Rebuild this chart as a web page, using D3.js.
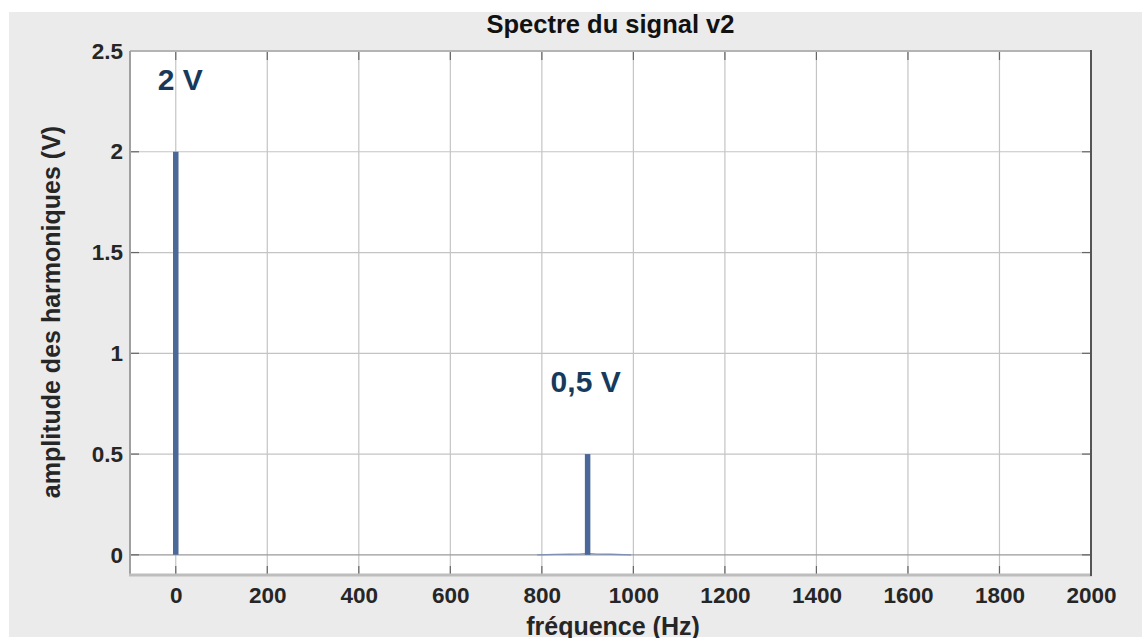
<!DOCTYPE html>
<html>
<head>
<meta charset="utf-8">
<script src="https://cdn.jsdelivr.net/npm/d3@7"></script>
<style>
  body { margin: 0; background: #fff; }
  svg { display: block; font-family: "Liberation Sans", Arial, sans-serif; }
</style>
</head>
<body>
<div id="chart"></div>
<script>
// spectral lines
var freqs = [0, 900];
var amps = [2, 0.5];
var labels = ["2 V", "0,5 V"];

// small leakage around the 900 Hz line
var leakFreqs = [790, 830, 860, 880, 895, 905, 920, 950, 995];
var leakAmps = [0, 0.002, 0.003, 0.004, 0.006, 0.006, 0.004, 0.003, 0];

var xTicks = [0, 200, 400, 600, 800, 1000, 1200, 1400, 1600, 1800, 2000];
var yTicks = [0, 0.5, 1, 1.5, 2, 2.5];
var yTickLabels = ["0", "0.5", "1", "1.5", "2", "2.5"];

var W = 1142, H = 638;
var pLeft = 130, pTop = 51, pRight = 1091, pBottom = 575;

var svg = d3.select("#chart").append("svg")
  .attr("width", W)
  .attr("height", H);

svg.append("rect")
  .attr("x", 9).attr("y", 12)
  .attr("width", W - 9).attr("height", 625)
  .attr("fill", "#ebebeb");

var x = d3.scaleLinear().domain([-100, 2000]).range([pLeft, pRight]);
var y = d3.scaleLinear().domain([-0.1, 2.5]).range([pBottom, pTop]);

svg.append("rect")
  .attr("x", pLeft).attr("y", pTop)
  .attr("width", pRight - pLeft).attr("height", pBottom - pTop)
  .attr("fill", "#fff");

// grid
var grid = svg.append("g");
grid.selectAll("line.vx")
  .data(xTicks)
  .enter().append("line")
   .attr("x1", d => x(d)).attr("x2", d => x(d))
   .attr("y1", pTop).attr("y2", pBottom)
   .attr("stroke", "#c4c4c4").attr("stroke-width", 1.2);
grid.selectAll("line.hy")
  .data(yTicks)
  .enter().append("line")
   .attr("x1", pLeft).attr("x2", pRight)
   .attr("y1", d => y(d)).attr("y2", d => y(d))
   .attr("stroke", d => d === 0 ? "#9a9a9a" : "#c4c4c4").attr("stroke-width", 1.2);

// tick marks inside the box
var tl = 9;
var ticks = svg.append("g").attr("stroke", "#666").attr("stroke-width", 1.2);
xTicks.forEach(function(d) {
  ticks.append("line").attr("x1", x(d)).attr("x2", x(d)).attr("y1", pBottom).attr("y2", pBottom - tl);
  ticks.append("line").attr("x1", x(d)).attr("x2", x(d)).attr("y1", pTop).attr("y2", pTop + tl);
});
yTicks.forEach(function(d) {
  ticks.append("line").attr("x1", pLeft).attr("x2", pLeft + tl).attr("y1", y(d)).attr("y2", y(d));
  ticks.append("line").attr("x1", pRight).attr("x2", pRight - tl).attr("y1", y(d)).attr("y2", y(d));
});

// leakage trace
var line = d3.line().x(d => x(d[0])).y(d => y(d[1]));
svg.append("path")
  .datum(leakFreqs.map((f, i) => [f, leakAmps[i]]))
  .attr("d", line)
  .attr("fill", "none")
  .attr("stroke", "#7f90b2")
  .attr("stroke-width", 1.3);

// stems
svg.selectAll("line.stem")
  .data(freqs)
  .enter().append("line")
   .attr("x1", d => x(d)).attr("x2", d => x(d))
   .attr("y1", y(0))
   .attr("y2", (d, i) => y(amps[i]))
   .attr("stroke", "#4a6898")
   .attr("stroke-width", 5.5);

// box
svg.append("line").attr("x1", pLeft).attr("x2", pRight).attr("y1", pTop).attr("y2", pTop)
  .attr("stroke", "#b4b4b4").attr("stroke-width", 2);
svg.append("line").attr("x1", pLeft).attr("x2", pLeft).attr("y1", pTop).attr("y2", pBottom)
  .attr("stroke", "#a0a0a0").attr("stroke-width", 2);
svg.append("line").attr("x1", pLeft - 1).attr("x2", pRight + 1).attr("y1", pBottom).attr("y2", pBottom)
  .attr("stroke", "#bdbdbd").attr("stroke-width", 3);
svg.append("line").attr("x1", pRight).attr("x2", pRight).attr("y1", pTop - 1).attr("y2", pBottom + 1)
  .attr("stroke", "#555").attr("stroke-width", 2);

// axes labels
var xAxis = svg.append("g")
  .attr("transform", "translate(0," + pBottom + ")")
  .call(d3.axisBottom(x).tickValues(xTicks).tickFormat(d3.format("d")).tickSize(0).tickPadding(12));
var yAxis = svg.append("g")
  .attr("transform", "translate(" + pLeft + ",0)")
  .call(d3.axisLeft(y).tickValues(yTicks).tickFormat((d, i) => yTickLabels[i]).tickSize(0).tickPadding(7));
[xAxis, yAxis].forEach(function(a) {
  a.select(".domain").remove();
  a.selectAll("text")
    .attr("fill", "#262626")
    .style("font-size", "22.5px")
    .style("font-weight", "bold")
    .style("font-family", '"Liberation Sans", Arial, sans-serif');
});

// annotations
svg.selectAll("text.ann")
  .data(freqs)
  .enter().append("text")
   .attr("x", (d, i) => i === 0 ? x(d) - 18 : x(d) - 37)
   .attr("y", (d, i) => y(amps[i] + 0.38) + 15)
   .text((d, i) => labels[i])
   .attr("fill", "#173a5c")
   .style("font-size", "30px")
   .style("font-weight", "bold");

svg.append("text")
  .attr("x", (pLeft + pRight) / 2).attr("y", 33)
  .attr("text-anchor", "middle")
  .attr("fill", "#111")
  .style("font-size", "25.5px")
  .style("font-weight", "bold")
  .text("Spectre du signal v2");

svg.append("text")
  .attr("x", 613).attr("y", 635)
  .attr("text-anchor", "middle")
  .attr("fill", "#262626")
  .style("font-size", "25px")
  .style("font-weight", "bold")
  .text("fréquence (Hz)");

svg.append("text")
  .attr("transform", "translate(60,312) rotate(-90)")
  .attr("text-anchor", "middle")
  .attr("fill", "#262626")
  .style("font-size", "25px")
  .style("font-weight", "bold")
  .text("amplitude des harmoniques (V)");
</script>
</body>
</html>
